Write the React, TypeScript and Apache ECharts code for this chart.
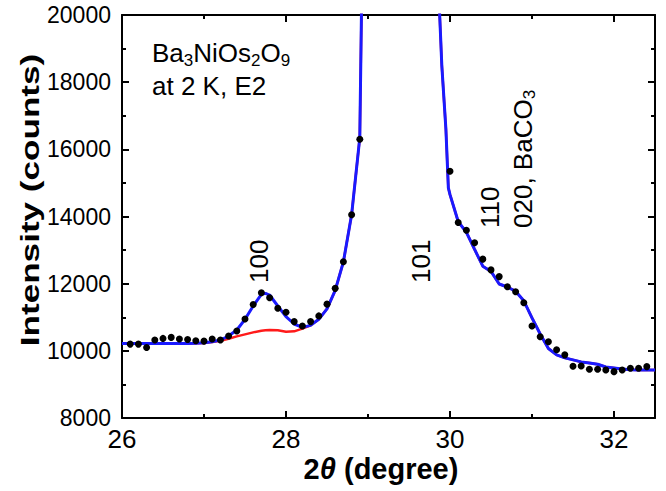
import { useEffect, useRef } from "react";
import * as echarts from "echarts";

// ---- Data ----
// Fit curve (blue) and background-only curve (red), sampled in 2θ (degree)
const fitTheta = [
  26.0, 26.1, 26.2, 26.3, 26.4, 26.5, 26.6, 26.7, 26.8, 26.9,
  27.0, 27.1, 27.2, 27.3, 27.4, 27.5, 27.6, 27.7, 27.75, 27.8, 27.9,
  28.0, 28.1, 28.2, 28.3, 28.4, 28.5, 28.6, 28.7, 28.8, 28.9, 28.95,
  29.0, 29.4, 29.8, 29.85, 29.9, 29.95, 29.98,
  30.0, 30.1, 30.2, 30.3, 30.4, 30.5, 30.6, 30.7, 30.8, 30.9,
  31.0, 31.1, 31.2, 31.3, 31.4, 31.5, 31.6, 31.7, 31.8, 31.9,
  32.0, 32.1, 32.2, 32.3, 32.4, 32.5,
];
const fitCounts = [
  10220, 10220, 10220, 10220, 10220, 10220, 10220, 10220, 10220, 10225,
  10240, 10272, 10322, 10441, 10620, 10938, 11335, 11682, 11712, 11662, 11335,
  11017, 10799, 10699, 10759, 10938, 11250, 11800, 12650, 14050, 16350, 25500,
  40000, 80000, 40000, 21400, 18500, 16600, 14850,
  14650, 13850, 13530, 13020, 12520, 12365, 11990, 11900, 11775, 11490,
  10980, 10500, 10070, 9880, 9790, 9730, 9670, 9640, 9600, 9520,
  9490, 9460, 9440, 9430, 9430, 9430,
];
const bgCounts = [
  10220, 10220, 10220, 10220, 10220, 10220, 10220, 10220, 10220, 10225,
  10235, 10260, 10300, 10360, 10430, 10490, 10550, 10600, 10610, 10620, 10610,
  10570, 10580, 10660, 10759, 10938, 11250, 11800, 12650, 14050, 16350, 25500,
  40000, 80000, 40000, 21400, 18500, 16600, 14850,
  14650, 13850, 13530, 13020, 12520, 12365, 11990, 11900, 11775, 11490,
  10980, 10500, 10070, 9880, 9790, 9730, 9670, 9640, 9600, 9520,
  9490, 9460, 9440, 9430, 9430, 9430,
];

// Observed intensities (black dots)
const obsTheta = [
  26.1, 26.2, 26.3, 26.4, 26.5, 26.6, 26.7, 26.8, 26.9, 27.0,
  27.1, 27.2, 27.3, 27.4, 27.5, 27.6, 27.7, 27.8, 27.9, 28.0,
  28.1, 28.2, 28.3, 28.4, 28.5, 28.6, 28.7, 28.8, 28.9,
  30.0, 30.1, 30.2, 30.3, 30.4, 30.5, 30.6, 30.7, 30.8, 30.9,
  31.0, 31.1, 31.2, 31.3, 31.4, 31.5, 31.6, 31.7, 31.8, 31.9,
  32.0, 32.1, 32.2, 32.3, 32.4,
];
const obsCounts = [
  10200, 10200, 10100, 10320, 10370, 10400, 10350, 10340, 10300, 10290,
  10350, 10320, 10440, 10590, 10950, 11380, 11730, 11580, 11270, 11150,
  10870, 10740, 10870, 11040, 11390, 11860, 12650, 14050, 16300,
  15350, 13820, 13590, 13220, 12730, 12410, 12210, 11910, 11760, 11430,
  10740, 10420, 10270, 10030, 9880, 9540, 9550, 9450, 9450, 9430,
  9380, 9430, 9480, 9480, 9530,
];

// Reflection labels (text, and the data position of the start of each rotated label)
const peakLabels = ["{n|100}", "{n|101}", "{n|110}", "{n|020, BaCO}{s|3}"];
const peakLabelTheta = [27.676, 29.642, 30.485, 30.888];
const peakLabelCounts = [12020, 12020, 13658, 13658];

const X_MIN = 26;
const X_MAX = 32.5;
const X_STEP = 2;
const Y_MIN = 8000;
const Y_MAX = 20000;
const Y_STEP = 2000;

const FONT = "'Liberation Sans', Arial, Helvetica, sans-serif";

export default function App() {
  const ref = useRef<HTMLDivElement>(null);

  useEffect(() => {
    const chart = echarts.init(ref.current!, null, { renderer: "svg" });

    const lineStyle = { color: "#000", width: 2 };
    const mkX = (pos: "bottom" | "top", labels: boolean) => ({
      type: "value",
      position: pos,
      min: X_MIN,
      max: X_MAX,
      interval: X_STEP,
      axisLine: { show: true, onZero: false, lineStyle },
      axisTick: { show: true, inside: true, length: 7, lineStyle },
      minorTick: { show: true, splitNumber: 2, length: 4, lineStyle },
      axisLabel: {
        show: labels,
        margin: 8,
        fontSize: 26,
        color: "#000",
        fontFamily: FONT,
        showMaxLabel: false,
        showMinLabel: true,
        formatter: (v: number) => String(v),
      },
      splitLine: { show: false },
      minorSplitLine: { show: false },
    });
    const mkY = (pos: "left" | "right", labels: boolean) => ({
      type: "value",
      position: pos,
      min: Y_MIN,
      max: Y_MAX,
      interval: Y_STEP,
      axisLine: { show: true, onZero: false, lineStyle },
      axisTick: { show: true, inside: true, length: 7, lineStyle },
      minorTick: { show: true, splitNumber: 2, length: 4, lineStyle },
      axisLabel: {
        show: labels,
        margin: 11,
        fontSize: 23,
        color: "#000",
        fontFamily: FONT,
        formatter: (v: number) => String(v),
      },
      splitLine: { show: false },
      minorSplitLine: { show: false },
    });

    chart.setOption({
      animation: false,
      backgroundColor: "#fff",
      grid: { left: 122, right: 11, top: 15, bottom: 73 },
      xAxis: [mkX("bottom", true), mkX("top", false)],
      yAxis: [mkY("left", true), mkY("right", false)],
      series: [
        {
          type: "line",
          data: fitTheta.map((t, i) => [t, bgCounts[i]]),
          showSymbol: false,
          symbol: "none",
          lineStyle: { color: "#ff1a1a", width: 2.5 },
          z: 2,
        },
        {
          type: "line",
          data: fitTheta.map((t, i) => [t, fitCounts[i]]),
          showSymbol: false,
          symbol: "none",
          lineStyle: { color: "#1a1aff", width: 3 },
          z: 3,
        },
        {
          type: "scatter",
          data: obsTheta.map((t, i) => [t, obsCounts[i]]),
          symbol: "circle",
          symbolSize: 7,
          itemStyle: { color: "#000", opacity: 1 },
          z: 4,
        },
      ],
    });

    const graphics: any[] = [];
    const sub = { fontSize: 17, fontFamily: FONT, fill: "#000", color: "#000" };

    // Sample description
    graphics.push({
      type: "text",
      x: 152,
      y: 36,
      z: 10,
      style: {
        text: "{n|Ba}{s|3}{n|NiOs}{s|2}{n|O}{s|9}\n{n|at 2 K, E2}",
        align: "left",
        textAlign: "left",
        verticalAlign: "top",
        textVerticalAlign: "top",
        rich: {
          n: { fontSize: 26, lineHeight: 33, fontFamily: FONT, fill: "#000", color: "#000" },
          s: { ...sub, lineHeight: 21, verticalAlign: "bottom" },
        },
      },
    });

    // Peak labels, rotated
    peakLabels.forEach((txt, i) => {
      const p = chart.convertToPixel({ gridIndex: 0 }, [peakLabelTheta[i], peakLabelCounts[i]]) as number[];
      graphics.push({
        type: "text",
        x: p[0],
        y: p[1],
        rotation: Math.PI / 2,
        z: 10,
        style: {
          text: txt,
          align: "left",
          textAlign: "left",
          verticalAlign: "middle",
          textVerticalAlign: "middle",
          rich: {
            n: { fontSize: 26, lineHeight: 30, fontFamily: FONT, fill: "#000", color: "#000" },
            s: { ...sub, lineHeight: 20, verticalAlign: "bottom" },
          },
        },
      });
    });

    // Axis titles
    graphics.push({
      type: "text",
      x: 30,
      y: 200,
      rotation: Math.PI / 2,
      scaleX: 1.35,
      z: 10,
      style: {
        text: "Intensity (counts)",
        fontSize: 26,
        fontWeight: "bold",
        fontFamily: FONT,
        fill: "#000",
        align: "center",
        textAlign: "center",
        verticalAlign: "middle",
        textVerticalAlign: "middle",
      },
    });
    graphics.push({
      type: "text",
      x: 381,
      y: 469,
      z: 10,
      style: {
        text: "{b|2}{i|θ}{b| (degree)}",
        fontStyle: "normal",
        align: "center",
        textAlign: "center",
        verticalAlign: "middle",
        textVerticalAlign: "middle",
        rich: {
          b: { fontSize: 29, fontWeight: "bold", fontStyle: "normal", fontFamily: FONT, fill: "#000", color: "#000" },
          i: { fontSize: 29, fontWeight: "bold", fontStyle: "italic", fontFamily: FONT, fill: "#000", color: "#000" },
        },
      },
    });

    chart.setOption({ graphic: { elements: graphics } });

    return () => chart.dispose();
  }, []);

  return (
    <div
      ref={ref}
      style={{ position: "fixed", left: 0, top: 0, width: 666, height: 491, background: "#fff" }}
    />
  );
}
